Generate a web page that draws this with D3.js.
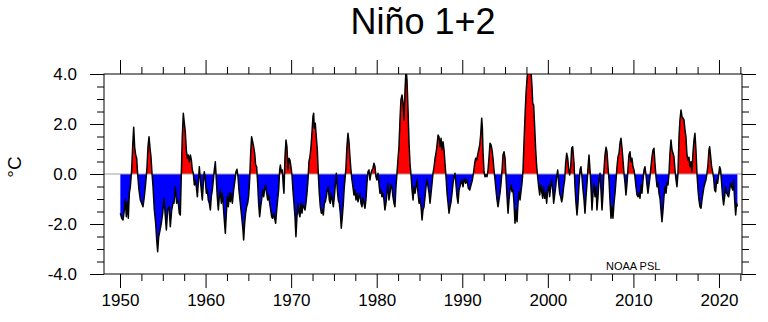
<!DOCTYPE html>
<html><head><meta charset="utf-8">
<script src="https://cdn.jsdelivr.net/npm/d3@7"></script>
<style>
body{margin:0;background:#fff}
svg{display:block}
text{font-family:"Liberation Sans",Arial,Helvetica,sans-serif}
</style>
</head><body>
<svg id="chart" width="768" height="322"></svg>
<script>
// ---- data (decimal year, anomaly in °C) ----
const decYear = [
1950.04,1950.20,1950.35,1950.51,1950.62,1950.74,1950.86,1950.97,1951.09,1951.21,1951.36,1951.48,1951.60,1951.71,1951.83,1951.95,
1952.07,1952.22,1952.38,1952.53,1952.69,1952.84,1953.00,1953.16,1953.27,1953.39,1953.51,1953.62,1953.74,1953.86,
1954.01,1954.17,1954.29,1954.40,1954.52,1954.68,1954.83,1954.99,1955.14,1955.30,1955.42,1955.57,1955.73,1955.88,1956.04,1956.19,
1956.31,1956.47,1956.62,1956.78,1956.93,1957.05,1957.17,1957.28,1957.40,1957.52,1957.63,1957.75,1957.87,1957.98,
1958.10,1958.22,1958.34,1958.45,1958.57,1958.69,1958.80,1958.92,1959.04,1959.15,1959.27,1959.39,1959.50,1959.62,1959.74,1959.85,1959.97,
1960.09,1960.21,1960.32,1960.44,1960.56,1960.67,1960.79,1960.91,1961.02,1961.14,1961.26,1961.37,1961.49,1961.61,1961.72,1961.84,1961.96,
1962.08,1962.19,1962.31,1962.43,1962.54,1962.66,1962.78,1962.89,
1962.97,1963.13,1963.28,1963.44,1963.55,1963.67,1963.79,1963.90,1964.02,1964.14,1964.26,1964.37,1964.45,1964.57,1964.68,1964.80,1964.92,
1965.03,1965.15,1965.27,1965.38,1965.50,1965.62,1965.74,1965.85,1965.97,1966.09,1966.20,1966.32,1966.44,1966.55,1966.67,1966.79,1966.90,
1967.02,1967.14,1967.26,1967.37,1967.49,1967.61,1967.72,1967.84,1967.96,1968.07,1968.19,1968.31,1968.42,1968.54,1968.66,1968.74,1968.85,1968.97,
1969.09,1969.16,1969.28,1969.40,1969.51,
1969.63,1969.75,1969.86,1969.98,1970.10,1970.21,1970.33,1970.45,1970.56,1970.68,1970.80,1970.92,1971.03,1971.15,1971.27,1971.38,1971.50,1971.62,1971.73,1971.85,1971.97,
1972.08,1972.20,1972.32,1972.43,1972.55,1972.63,1972.71,1972.82,1972.94,1973.06,1973.17,1973.29,1973.41,1973.53,1973.64,1973.76,1973.88,1973.99,
1974.11,1974.23,1974.34,1974.46,1974.58,1974.69,1974.81,1974.93,1975.05,1975.16,1975.28,1975.40,1975.51,1975.63,1975.75,1975.86,1975.98,1976.10,1976.21,
1976.29,1976.41,1976.52,1976.64,1976.76,1976.87,1976.99,1977.11,1977.22,1977.34,1977.46,1977.58,1977.69,1977.81,1977.93,
1978.04,1978.16,1978.28,1978.39,1978.51,1978.63,1978.74,1978.86,1978.98,1979.10,1979.21,1979.33,1979.45,1979.56,1979.68,1979.80,1979.91,
1980.03,1980.15,1980.26,1980.38,1980.50,1980.61,1980.73,1980.85,1980.96,1981.08,1981.20,1981.32,1981.43,1981.55,1981.67,1981.78,1981.90,
1982.02,1982.13,1982.25,1982.37,1982.48,1982.60,1982.72,1982.83,
1982.96,1983.08,1983.19,1983.31,1983.43,1983.54,1983.66,1983.78,1983.89,1984.01,1984.13,1984.25,1984.36,1984.48,1984.60,1984.71,1984.83,1984.95,
1985.06,1985.18,1985.30,1985.41,1985.53,1985.65,1985.76,1985.88,1986.00,1986.12,1986.23,1986.35,1986.47,1986.58,1986.70,1986.82,1986.93,
1987.05,1987.17,1987.28,1987.40,1987.52,1987.63,1987.75,1987.87,1987.98,1988.10,1988.22,1988.34,1988.45,1988.57,1988.69,1988.80,1988.92,
1989.04,1989.15,1989.27,1989.39,1989.50,
1989.62,1989.78,1989.93,1990.09,1990.24,1990.40,1990.55,1990.71,1990.87,1991.02,1991.18,1991.33,1991.45,1991.57,1991.68,1991.80,1991.92,
1992.04,1992.15,1992.27,1992.35,1992.43,1992.54,1992.66,1992.78,1992.89,1993.01,1993.13,1993.24,1993.36,1993.48,1993.59,1993.71,1993.83,1993.94,
1994.06,1994.18,1994.29,1994.41,1994.53,1994.65,1994.76,1994.88,1995.00,1995.11,1995.23,1995.35,1995.46,1995.58,1995.70,1995.81,1995.93,
1996.05,1996.16,
1996.28,1996.40,1996.51,1996.63,1996.75,1996.86,1996.98,1997.10,1997.21,1997.33,1997.45,1997.57,1997.68,1997.80,1997.92,
1998.03,1998.15,1998.23,1998.34,1998.46,1998.58,1998.70,1998.81,1998.93,1999.05,1999.16,1999.28,1999.40,1999.51,1999.63,1999.75,1999.86,1999.98,
2000.10,2000.21,2000.33,2000.45,2000.57,2000.68,2000.80,2000.92,2001.03,2001.15,2001.27,2001.38,2001.50,2001.62,2001.73,2001.85,2001.97,
2002.08,2002.20,2002.32,2002.43,2002.55,2002.67,2002.79,2002.90,
2003.06,2003.17,2003.29,2003.41,2003.52,2003.64,2003.76,2003.87,2003.99,2004.11,2004.23,2004.34,2004.46,2004.58,2004.69,2004.81,2004.93,
2005.04,2005.16,2005.28,2005.39,2005.51,2005.63,2005.74,2005.86,2005.98,2006.10,2006.21,2006.33,2006.45,2006.56,2006.68,2006.80,2006.91,
2007.03,2007.15,2007.26,2007.38,2007.50,2007.61,2007.73,2007.85,2007.97,2008.08,2008.20,2008.32,2008.43,2008.55,2008.67,2008.78,2008.90,
2009.02,2009.13,2009.25,2009.37,2009.48,
2009.60,2009.72,2009.83,2009.95,2010.07,2010.18,2010.30,2010.42,2010.53,2010.65,2010.77,2010.89,2011.00,2011.12,2011.24,2011.35,2011.47,
2011.59,2011.70,2011.82,2011.94,2012.05,2012.17,2012.29,2012.40,2012.52,2012.64,2012.76,2012.87,2012.99,2013.11,2013.22,2013.34,2013.46,
2013.57,2013.69,2013.81,2013.92,2014.04,2014.16,2014.27,2014.39,2014.51,2014.63,2014.74,2014.86,2014.98,2015.09,2015.21,2015.33,2015.44,
2015.56,2015.68,2015.79,2015.91,2016.03,2016.14,
2016.26,2016.38,2016.49,2016.61,2016.73,2016.84,2016.96,2017.08,2017.19,2017.31,2017.43,2017.55,2017.66,2017.78,2017.90,
2018.01,2018.13,2018.25,2018.36,2018.48,2018.60,2018.71,2018.83,2018.91,2019.03,2019.14,2019.26,2019.38,2019.49,2019.61,2019.73,2019.84,2019.96,
2020.08,2020.19,2020.31,2020.43,2020.54,2020.66,2020.78,2020.90,2021.01,2021.13,2021.25,2021.36,2021.48,2021.60,2021.71,2021.83,2021.95,
2022.06,2022.15
];
const anomaly = [
-1.57,-1.77,-1.84,-1.44,-1.04,-1.71,-1.11,-1.77,-0.77,-0.51,0.16,1.09,1.87,1.09,0.76,0.63,
-0.04,-0.64,-1.04,-1.17,-1.31,-0.91,-0.37,0.29,1.09,1.49,1.03,0.69,0.03,-0.51,
-1.44,-1.97,-2.64,-3.11,-2.51,-2.24,-1.97,-1.57,-0.97,-1.71,-2.24,-1.44,-1.31,-2.11,-1.44,-1.17,
-1.17,-0.51,-1.17,-1.04,-1.57,-1.64,0.03,1.49,2.43,2.03,1.69,0.96,0.63,0.76,
0.49,0.76,0.56,0.16,0.03,-0.44,-0.24,-0.51,-0.91,-0.37,0.29,-0.24,-0.64,-1.04,-0.37,0.09,-0.24,
-0.77,-0.64,-1.04,-1.17,-1.44,-0.91,-0.64,-0.24,0.16,0.49,-0.24,-0.91,-1.44,-0.91,-0.64,-1.17,-0.77,
-1.31,-1.84,-2.37,-1.57,-0.91,-1.31,-0.77,-1.11,
-0.77,-1.17,-0.64,-0.24,0.09,0.19,-0.11,-0.64,-1.04,-1.44,-1.84,-2.24,-2.64,-1.97,-1.57,-1.31,-1.17,
-0.91,-0.24,0.83,1.49,1.29,1.09,0.83,0.36,0.29,-0.37,-1.17,-1.71,-1.31,-1.04,-0.64,-0.91,-0.64,
-0.44,-0.77,-1.04,-0.84,-1.17,-1.44,-1.71,-1.77,-1.57,-1.77,-1.97,-1.44,-1.04,-0.64,0.16,0.36,0.09,0.16,
-0.51,-0.77,0.69,1.36,1.09,
0.16,0.63,0.56,0.29,-0.04,-0.64,-1.17,-1.71,-2.51,-1.71,-1.17,-1.57,-1.71,-1.17,-1.57,-1.24,-1.31,-1.44,-1.17,-0.77,-0.24,
0.49,0.69,1.09,1.63,2.29,2.43,1.83,2.03,1.49,0.96,0.03,-0.77,-1.31,-1.57,-1.44,-1.64,-1.17,-1.11,
-0.91,-0.64,-0.51,-1.04,-1.17,-0.77,-1.04,-1.31,-0.91,-0.44,0.03,-0.64,-1.04,-1.17,-1.57,-2.17,-1.71,-1.17,-0.51,
-0.24,0.29,1.09,1.63,1.29,0.69,0.16,-0.24,-0.51,-0.84,-0.64,-1.04,-0.77,-1.11,-0.91,
-0.77,-1.17,-1.31,-0.97,-1.17,-1.37,-1.04,-0.37,0.09,0.16,-0.24,0.03,0.16,0.23,0.43,0.29,-0.11,
-0.24,0.03,-0.37,-0.77,-0.64,-0.91,-0.77,-1.04,-1.44,-1.17,-0.77,-0.37,-1.04,-0.77,-0.44,-0.51,-0.91,
-1.17,-1.31,-0.51,0.03,0.56,1.09,2.16,2.96,
3.16,2.83,2.16,3.36,4.20,3.76,2.56,1.23,0.43,-0.04,-0.64,-1.04,-0.51,-0.77,-0.51,-0.24,-0.77,-1.17,
-0.97,-1.31,-1.84,-1.44,-1.31,-0.91,-0.51,-0.24,-0.51,-0.77,-1.17,-0.77,-0.37,0.03,0.29,0.63,0.83,
1.16,1.56,1.49,1.09,1.43,0.96,1.29,0.96,0.43,-0.11,-0.77,-1.17,-1.57,-1.31,-1.11,-0.77,-0.37,
-0.11,0.03,-0.44,-0.91,-1.17,
-0.64,-0.44,-0.24,-0.51,-0.17,-0.37,-0.24,-0.57,-0.64,-0.44,-0.24,0.09,0.43,0.63,0.56,0.76,0.96,
1.16,1.56,2.23,1.83,0.83,0.09,-0.11,-0.04,-0.11,0.16,0.69,1.23,1.16,0.96,0.63,0.16,-0.24,-0.64,
-1.04,-1.31,-1.04,-0.77,-0.37,0.16,0.76,0.89,0.63,-0.11,-0.91,-1.57,-1.04,-0.64,-0.44,-0.71,-0.64,
-1.17,-1.97,
-1.44,-1.91,-1.17,-0.71,-1.04,-0.71,-0.37,0.16,1.23,2.29,3.23,3.83,4.20,4.20,4.03,
4.10,3.49,2.83,2.76,1.89,0.96,0.29,-0.11,-0.51,-0.84,-0.44,-0.71,-0.97,-0.51,-0.97,-0.77,-1.17,-0.64,
-0.44,-0.91,-0.51,-0.24,-0.64,-1.17,-0.84,-0.51,-0.11,0.16,-0.37,-0.77,-0.91,-1.11,-0.91,-0.51,-0.24,
0.43,0.83,0.63,0.23,-0.04,0.29,1.03,1.09,
0.43,-0.51,-1.17,-1.64,-1.17,-0.44,0.16,0.29,-0.11,-0.64,-1.04,-1.57,-0.91,-0.37,0.23,0.76,0.16,
-0.51,-1.44,-0.77,-0.37,-0.91,-0.51,-1.44,-0.91,-0.24,0.03,-0.64,-1.44,-0.77,0.16,0.76,1.07,0.89,
0.29,-0.24,-1.04,-1.77,-1.31,-1.77,-1.17,-0.77,-0.24,0.29,0.69,0.83,1.23,1.43,1.03,0.56,0.03,
-0.37,-0.84,-0.37,0.23,0.76,
0.89,0.49,0.63,0.29,0.16,-0.11,-0.51,-0.84,-0.91,-0.77,-0.97,-0.44,-0.77,-0.24,0.16,0.29,-0.04,
-0.44,-0.77,-0.44,-0.11,0.29,0.69,0.96,1.03,0.43,-0.11,-0.51,-0.37,-0.77,-0.97,-1.44,-1.91,-1.44,
-0.91,-0.51,-0.77,-0.37,-0.44,0.03,0.83,1.36,0.96,0.83,0.69,0.16,-0.24,-0.51,0.03,1.49,2.16,
2.56,2.29,2.23,2.16,1.76,1.49,
0.76,0.56,0.67,0.29,0.49,0.09,0.83,1.36,1.63,0.96,0.00,-0.64,-1.04,-1.31,-1.37,
-1.04,-0.77,-0.51,-0.37,-0.24,0.03,0.36,0.96,1.09,0.69,0.29,0.09,-0.17,-0.64,-0.71,-0.24,-0.37,-0.04,
0.29,0.16,-0.37,-0.91,-1.24,-0.91,-0.51,-0.77,-0.84,-0.91,-0.64,-0.37,-0.51,-0.64,-0.24,-1.04,-1.64,
-1.17,-1.30
];
const yMajorTicks = [-4, -2, 0, 2, 4];
const yMinorTicks = [-3.5,-3,-2.5,-1.5,-1,-0.5,0.5,1,1.5,2.5,3,3.5];
const xMajorTicks = [1950, 1960, 1970, 1980, 1990, 2000, 2010, 2020];
const xMinorTicks = [1952.5,1955,1957.5,1962.5,1965,1967.5,1972.5,1975,1977.5,1982.5,1985,1987.5,
                     1992.5,1995,1997.5,2002.5,2005,2007.5,2012.5,2015,2017.5,2022.5];
const titleText = "Niño 1+2";
const yTitleText = "°C";
const creditText = "NOAA PSL";

// ---- layout ----
const P = {left:104, right:742, top:74, bottom:274};
const svg = d3.select("#chart");
const x = d3.scaleLinear().domain([1948.13, 2022.69]).range([P.left, P.right]);
const y = d3.scaleLinear().domain([-4, 4]).range([P.bottom, P.top]);

const pts = decYear.map((t,i)=>({t, v:anomaly[i]}));
// add zero crossings so fills meet the curve exactly
const rp = [];
for (let i=0;i<pts.length;i++){
  const a = pts[i];
  if (i>0){
    const b = pts[i-1];
    if ((b.v<0 && a.v>0) || (b.v>0 && a.v<0)){
      const f = b.v/(b.v-a.v);
      rp.push({t:b.t+(a.t-b.t)*f, v:0});
    }
  }
  rp.push(a);
}

svg.append("defs").append("clipPath").attr("id","clip")
  .append("rect").attr("x",P.left).attr("y",P.top)
  .attr("width",P.right-P.left).attr("height",P.bottom-P.top);

const g = svg.append("g").attr("clip-path","url(#clip)");
g.append("path").datum(rp)
  .attr("fill","#ff0000")
  .attr("d", d3.area().x(d=>x(d.t)).y0(y(0)).y1(d=>y(Math.max(0,d.v))));
g.append("path").datum(rp)
  .attr("fill","#0000ff")
  .attr("d", d3.area().x(d=>x(d.t)).y0(y(0)).y1(d=>y(Math.min(0,d.v))));
g.append("line")
  .attr("x1",P.left).attr("x2",P.right).attr("y1",y(0)).attr("y2",y(0))
  .attr("stroke","#a0a0a0").attr("stroke-width",1);
g.append("path").datum(pts)
  .attr("fill","none").attr("stroke","#000").attr("stroke-width",1.5)
  .attr("stroke-linejoin","round")
  .attr("d", d3.line().x(d=>x(d.t)).y(d=>y(d.v)));

// ---- axes ----
function styleAxis(sel){
  sel.select(".domain").remove();
  sel.selectAll(".tick line").attr("stroke","#000").attr("stroke-width",1);
  sel.selectAll("text").attr("font-family",'"Liberation Sans",Arial,sans-serif')
     .attr("font-size",17).attr("fill","#000");
}
const fmt = d => d.toFixed(1);
svg.append("g").attr("transform",`translate(${P.left},0)`)
  .call(d3.axisLeft(y).tickValues(yMajorTicks).tickFormat(fmt).tickSize(14).tickPadding(13))
  .call(styleAxis);
svg.append("g").attr("transform",`translate(${P.left},0)`)
  .call(d3.axisLeft(y).tickValues(yMinorTicks).tickFormat("").tickSize(7))
  .call(styleAxis);
svg.append("g").attr("transform",`translate(${P.right},0)`)
  .call(d3.axisRight(y).tickValues(yMajorTicks).tickFormat("").tickSize(14))
  .call(styleAxis);
svg.append("g").attr("transform",`translate(${P.right},0)`)
  .call(d3.axisRight(y).tickValues(yMinorTicks).tickFormat("").tickSize(7))
  .call(styleAxis);
svg.append("g").attr("transform",`translate(0,${P.bottom})`)
  .call(d3.axisBottom(x).tickValues(xMajorTicks).tickFormat(d3.format("d")).tickSize(14).tickPadding(6))
  .call(styleAxis);
svg.append("g").attr("transform",`translate(0,${P.bottom})`)
  .call(d3.axisBottom(x).tickValues(xMinorTicks).tickFormat("").tickSize(7))
  .call(styleAxis);
svg.append("g").attr("transform",`translate(0,${P.top})`)
  .call(d3.axisTop(x).tickValues(xMajorTicks).tickFormat("").tickSize(14))
  .call(styleAxis);
svg.append("g").attr("transform",`translate(0,${P.top})`)
  .call(d3.axisTop(x).tickValues(xMinorTicks).tickFormat("").tickSize(7))
  .call(styleAxis);

// frame
svg.append("rect").attr("x",P.left).attr("y",P.top)
  .attr("width",P.right-P.left).attr("height",P.bottom-P.top)
  .attr("fill","none").attr("stroke","#000").attr("stroke-width",1);

// texts
svg.append("text").attr("x",(P.left+P.right)/2).attr("y",34)
  .attr("text-anchor","middle").attr("font-size",36).text(titleText);
svg.append("text").attr("transform","translate(21,167) rotate(-90)")
  .attr("text-anchor","middle").attr("font-size",19).text(yTitleText);
svg.append("text").attr("x",606).attr("y",270)
  .attr("font-size",11).text(creditText);
</script>
</body></html>
